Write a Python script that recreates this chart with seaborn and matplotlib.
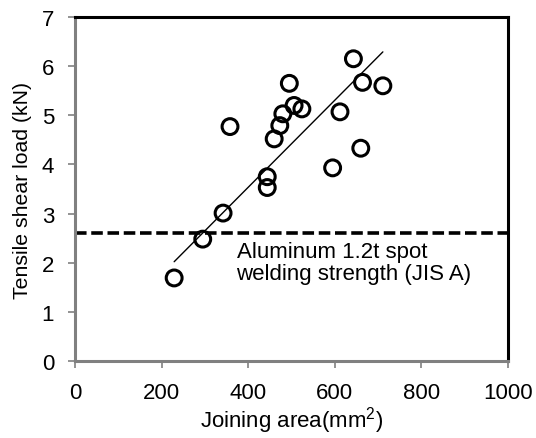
import matplotlib
matplotlib.use("Agg")
import matplotlib.pyplot as plt
import seaborn as sns
import pandas as pd

# Data
joining_area = [229, 295, 342, 444, 444, 358, 460, 473, 480, 495, 506, 524,
                643, 664, 711, 612, 660, 595]
shear_load = [1.69, 2.48, 3.01, 3.75, 3.53, 4.77, 4.52, 4.79, 5.03, 5.65,
              5.20, 5.13, 6.15, 5.67, 5.60, 5.07, 4.33, 3.93]
trend_x = [229, 711]
trend_y = [2.02, 6.29]
spot_strength = 2.6
x_ticks = [0, 200, 400, 600, 800, 1000]
y_ticks = [0, 1, 2, 3, 4, 5, 6, 7]

FS = 16

sns.set_style("white")
plt.rcParams['font.family'] = ['Liberation Sans', 'DejaVu Sans']
plt.rcParams['mathtext.default'] = 'regular'
plt.rcParams['text.color'] = 'black'
plt.rcParams['axes.labelcolor'] = 'black'

fig = plt.figure(figsize=(5.36, 4.39), dpi=100)
ax = fig.add_axes([75/536, 1 - 362/439, (508-75)/536, (362-18)/439])

df = pd.DataFrame({"x": joining_area, "y": shear_load})
tr = pd.DataFrame({"x": trend_x, "y": trend_y})

sns.lineplot(data=tr, x="x", y="y", ax=ax, color="black", linewidth=1.0)
ax.axhline(spot_strength, color="black", linewidth=2.6, dashes=(3.2, 1.3), zorder=2)
sns.scatterplot(data=df, x="x", y="y", ax=ax, marker="o", s=130,
                facecolor="none", edgecolor="black", linewidth=2.2, zorder=3)

ax.set_xlim(0, 1000)
ax.set_ylim(0, 7)
ax.set_xticks(x_ticks)
ax.set_yticks(y_ticks)
ax.tick_params(axis="both", direction="out", length=5, width=1.2, color="#808080",
               labelsize=FS, labelcolor="black")
ax.tick_params(axis="x", pad=10)
ax.tick_params(axis="y", pad=10)
ax.set_xlabel("Joining area(mm$^2$)", fontsize=FS, labelpad=1)
ax.set_ylabel("Tensile shear load (kN)", fontsize=15.3, labelpad=7)
ax.xaxis.set_ticks_position("bottom")
ax.yaxis.set_ticks_position("left")

for side in ["top", "right"]:
    ax.spines[side].set_color("black")
    ax.spines[side].set_linewidth(2.2)
for side in ["left", "bottom"]:
    ax.spines[side].set_color("#808080")
    ax.spines[side].set_linewidth(2.2)

ax.text(373, 2.45, "Aluminum 1.2t spot\nwelding strength (JIS A)", fontsize=FS,
        va="top", ha="left", linespacing=1.1)

fig.savefig("out.png", dpi=100)
